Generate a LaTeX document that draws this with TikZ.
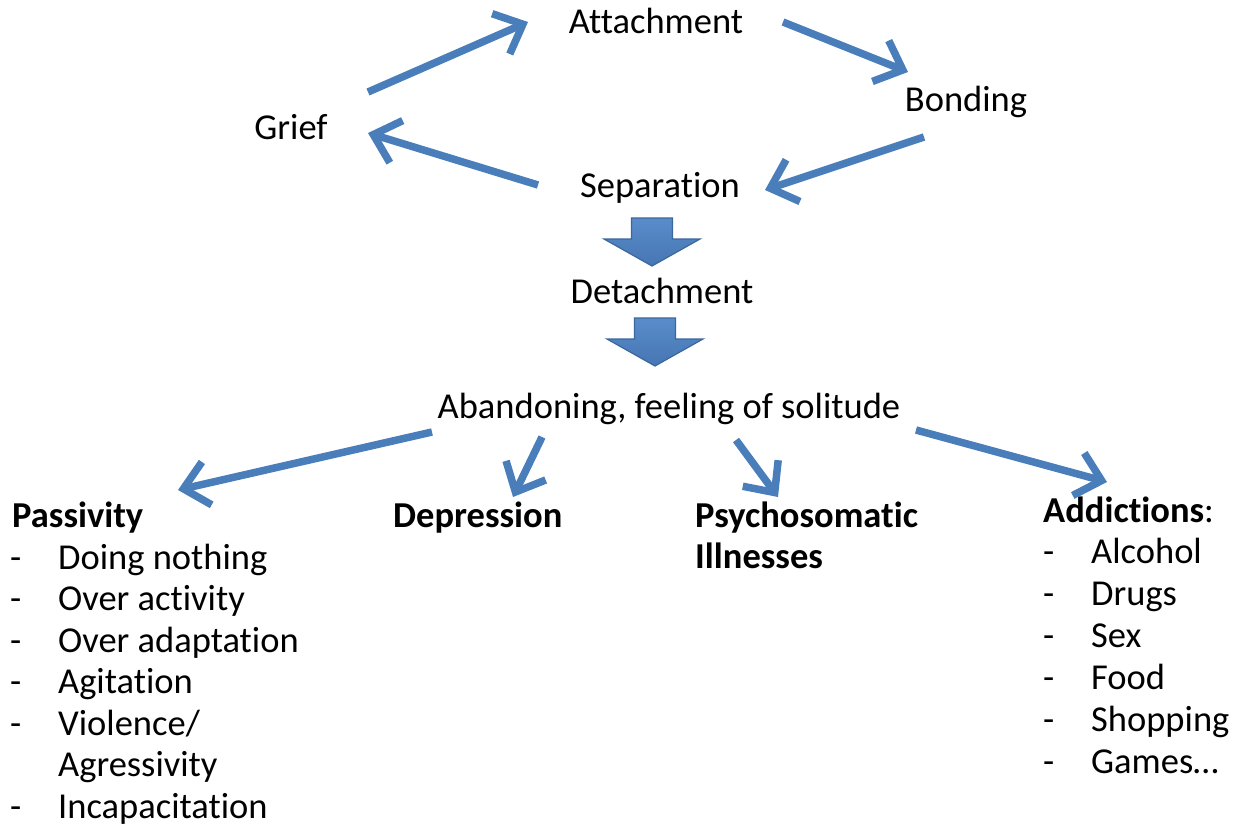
\documentclass[tikz,border=0pt]{standalone}
\usepackage{fontspec}
\setmainfont{Carlito}[Ligatures={NoCommon}]
\usetikzlibrary{arrows.meta}
\definecolor{flowblue}{HTML}{4A7EBB}
\definecolor{blocktop}{HTML}{5A8CCB}
\definecolor{blockbot}{HTML}{4676B3}
\definecolor{blockedge}{HTML}{3A679C}
\begin{document}
\begin{tikzpicture}[x=1pt,y=-1pt,
  lbl/.style={inner sep=0pt, font=\fontsize{36.5}{42}\selectfont},
  bold/.style={inner sep=0pt, font=\fontsize{36.5}{42}\selectfont\bfseries},
  flow/.style={draw=flowblue, line width=7.5pt,
    -{Straight Barb[length=24pt,width=44pt]}},
  blockarrow/.pic={
    \draw[blockedge, line width=1.2pt, top color=blocktop, bottom color=blockbot]
      (-20.5,0) -- (20.5,0) -- (20.5,21) -- (48,21) -- (0,48)
      -- (-48,21) -- (-20.5,21) -- cycle;
  }
]
\useasboundingbox (0,0) rectangle (1236,825);

% cycle of the relationship
\node[lbl, anchor=base] (attach) at (656,33) {Attachment};
\node[lbl, anchor=base] (bond)   at (966,111) {Bonding};
\node[lbl, anchor=base] (grief)  at (291,139) {Grief};
\node[lbl, anchor=base] (sep)    at (660,197) {Separation};
\node[lbl, anchor=base] (detach) at (662,303) {Detachment};
\node[lbl, anchor=base] (aband)  at (669,418) {Abandoning, feeling of solitude};

\draw[flow] ([shift={(77,-47)}]grief.base) -- ([shift={(-128,-11)}]attach.base);
\draw[flow] ([shift={(127,-11)}]attach.base) -- ([shift={(-58,-39)}]bond.base);
\draw[flow] ([shift={(-42,26)}]bond.base) -- ([shift={(105,-7)}]sep.base);
\draw[flow] ([shift={(-122,-12)}]sep.base) -- ([shift={(77,-6)}]grief.base);

% block arrows down the middle
\pic at ([shift={(-8,21)}]sep.base) {blockarrow};
\pic at ([shift={(-7,15)}]detach.base) {blockarrow};

% consequences
\node[bold, anchor=base west] (pass) at (12,527) {Passivity};
\node[bold, anchor=base west] (dep)  at (393,527) {Depression};
\node[bold, anchor=base west] (psy)  at (695,527) {Psychosomatic};
\node[bold, anchor=base west] (ill)  at (695,568) {Illnesses};
\node[lbl, anchor=base west]  (add)  at (1043,522) {\textbf{Addictions}:};

\foreach \txt [count=\i] in {{\makebox[48pt][l]{-}Doing nothing},
    {\makebox[48pt][l]{-}Over activity},
    {\makebox[48pt][l]{-}Over adaptation},
    {\makebox[48pt][l]{-}Agitation},
    {\makebox[48pt][l]{-}Violence/},
    {\hspace*{48pt}Agressivity},
    {\makebox[48pt][l]{-}Incapacitation}}
  \node[lbl, anchor=base west] (p\i) at (10,527.5+41.5*\i) {\txt};

\foreach \txt [count=\i] in {Alcohol, Drugs, Sex, Food, Shopping, Games\dots}
  \node[lbl, anchor=base west] (a\i) at (1043,521+42*\i) {\makebox[48pt][l]{-}\txt};

\draw[flow] ([shift={(-237,14)}]aband.base) -- ([shift={(166,-37)}]pass.base west);
\draw[flow] ([shift={(-127,19)}]aband.base) -- ([shift={(120,-30)}]dep.base west);
\draw[flow] ([shift={(67,22)}]aband.base) -- ([shift={(83,-30)}]psy.base west);
\draw[flow] ([shift={(247,12)}]aband.base) -- ([shift={(64,-40)}]add.base west);
\end{tikzpicture}
\end{document}
